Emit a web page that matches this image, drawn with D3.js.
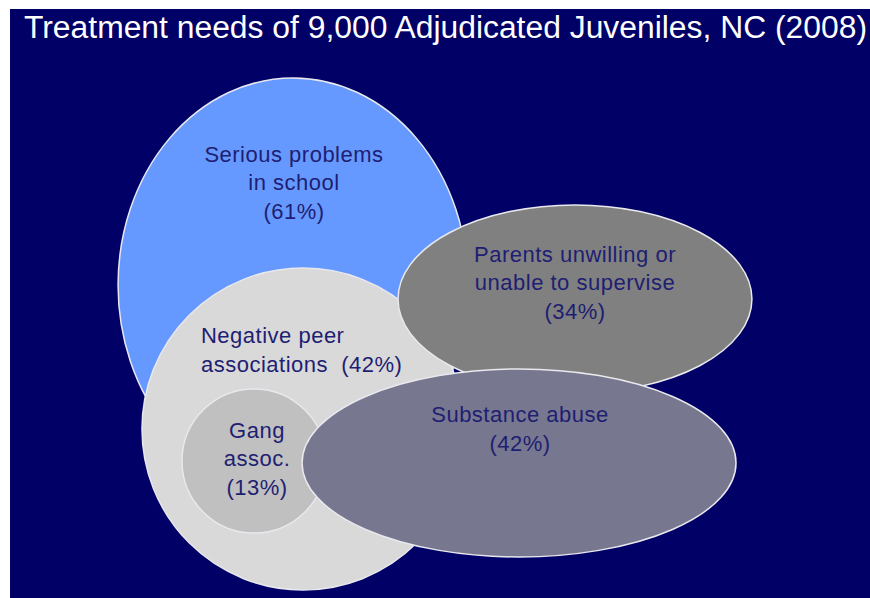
<!DOCTYPE html>
<html>
<head>
<meta charset="utf-8">
<script src="https://cdn.jsdelivr.net/npm/d3@7"></script>
<style>
  html, body { margin: 0; padding: 0; background: #ffffff; }
  svg { display: block; }
</style>
</head>
<body>
<svg id="chart" width="870" height="598"></svg>
<script>
// ---- data ----
const title = "Treatment needs of 9,000 Adjudicated Juveniles, NC (2008)";
const categories = ["Serious problems in school", "Negative peer associations", "Gang assoc.", "Parents unwilling or unable to supervise", "Substance abuse"];
const percents = [61, 42, 13, 34, 42];
const labelLines = [
  ["Serious problems", "in school", "(61%)"],
  ["Negative peer", "associations  (42%)"],
  ["Gang", "assoc.", "(13%)"],
  ["Parents unwilling or", "unable to supervise", "(34%)"],
  ["Substance abuse", "(42%)"]
];

// ---- layout (fractions of the canvas; mapped through scales) ----
const layoutCx = [0.3368, 0.3483, 0.2920, 0.6609, 0.5966];
const layoutCy = [0.4766, 0.7174, 0.7709, 0.5000, 0.7742];
const layoutRx = [0.2011, 0.1851, 0.0828, 0.2034, 0.2494];
const layoutRy = [0.3462, 0.2692, 0.1204, 0.1572, 0.1572];
const labelX   = [0.3379, 0.2310, 0.2954, 0.6609, 0.5977];
const labelY   = [0.2709, 0.5736, 0.7324, 0.4381, 0.7057];
const labelAnchor = ["middle", "start", "middle", "middle", "middle"];
const fills = ["#6699ff", "#d9d9d9", "#c0c0c0", "#808080", "#77778f"];

const W = 870, H = 598;
const svg = d3.select("#chart");
const x = d3.scaleLinear().domain([0, 1]).range([0, W]);
const y = d3.scaleLinear().domain([0, 1]).range([0, H]);
const rxs = d3.scaleLinear().domain([0, 1]).range([0, W]);
const rys = d3.scaleLinear().domain([0, 1]).range([0, H]);

// background panel
svg.append("rect").attr("x", 10).attr("y", 9).attr("width", W - 10).attr("height", H - 9)
  .attr("fill", "#000066");

// title
svg.append("text")
  .attr("x", 24).attr("y", 38)
  .attr("font-family", "'Liberation Sans', Arial, sans-serif")
  .attr("font-size", 31)
  .attr("fill", "#ffffff")
  .attr("textLength", 843)
  .attr("lengthAdjust", "spacingAndGlyphs")
  .text(title);

const items = categories.map((c, i) => ({
  name: c, pct: percents[i], lines: labelLines[i],
  cx: layoutCx[i], cy: layoutCy[i], rx: layoutRx[i], ry: layoutRy[i],
  lx: labelX[i], ly: labelY[i], anchor: labelAnchor[i], fill: fills[i]
}));

// shapes (drawn in stacking order)
svg.append("g").selectAll("ellipse").data(items).join("ellipse")
  .attr("cx", d => x(d.cx)).attr("cy", d => y(d.cy))
  .attr("rx", d => rxs(d.rx)).attr("ry", d => rys(d.ry))
  .attr("fill", d => d.fill)
  .attr("stroke", "#e8e8ee")
  .attr("stroke-width", 1.5);

// labels
const lineH = 28.5;
const lg = svg.append("g")
  .attr("font-family", "'Liberation Sans', Arial, sans-serif")
  .attr("font-size", 22)
  .attr("letter-spacing", "0.5px")
  .attr("fill", "#1e1e72");

items.forEach(d => {
  const t = lg.append("text")
    .attr("x", x(d.lx)).attr("y", y(d.ly))
    .attr("text-anchor", d.anchor)
    .attr("xml:space", "preserve")
    .style("white-space", "pre");
  d.lines.forEach((ln, j) => {
    t.append("tspan").attr("x", x(d.lx)).attr("dy", j === 0 ? 0 : lineH).text(ln);
  });
});
</script>
</body>
</html>
